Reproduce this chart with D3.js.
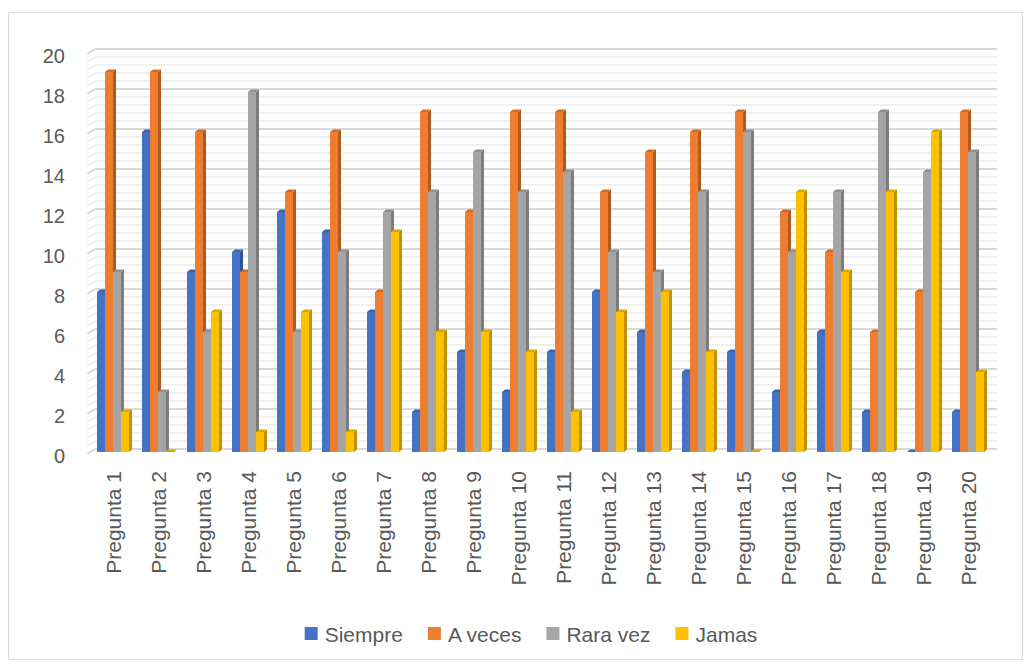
<!DOCTYPE html>
<html>
<head>
<meta charset="utf-8">
<script src="https://cdn.jsdelivr.net/npm/d3@7"></script>
<style>
  body { margin: 0; background: #fff; }
  svg { display: block; }
  text { font-family: "Liberation Sans", Arial, sans-serif; fill: #595959; }
</style>
</head>
<body>
<svg id="chart" width="1034" height="664"></svg>
<script>
// Survey answers per question
const categories = ["Pregunta 1", "Pregunta 2", "Pregunta 3", "Pregunta 4", "Pregunta 5",
  "Pregunta 6", "Pregunta 7", "Pregunta 8", "Pregunta 9", "Pregunta 10",
  "Pregunta 11", "Pregunta 12", "Pregunta 13", "Pregunta 14", "Pregunta 15",
  "Pregunta 16", "Pregunta 17", "Pregunta 18", "Pregunta 19", "Pregunta 20"];
const seriesNames = ["Siempre", "A veces", "Rara vez", "Jamas"];
const siempre = [8, 16, 9, 10, 12, 11, 7, 2, 5, 3, 5, 8, 6, 4, 5, 3, 6, 2, 0, 2];
const aVeces  = [19, 19, 16, 9, 13, 16, 8, 17, 12, 17, 17, 13, 15, 16, 17, 12, 10, 6, 8, 17];
const raraVez = [9, 3, 6, 18, 6, 10, 12, 13, 15, 13, 14, 10, 9, 13, 16, 10, 13, 17, 14, 15];
const jamas   = [2, 0, 7, 1, 7, 1, 11, 6, 6, 5, 2, 7, 8, 5, 0, 13, 9, 13, 16, 4];
const yTicks = [0, 2, 4, 6, 8, 10, 12, 14, 16, 18, 20];

const seriesValues = [siempre, aVeces, raraVez, jamas];
const frontColors = ["#4472C4", "#ED7D31", "#A5A5A5", "#FFC000"];
const sideColors  = ["#2F5597", "#B05A1E", "#7C7C7C", "#BF9000"];
const topColors   = ["#3A63AE", "#D06A25", "#8F8F8F", "#DCA500"];

const svg = d3.select("#chart");

// Outer chart border
svg.append("rect")
  .attr("x", 8.5).attr("y", 12.5)
  .attr("width", 1014).attr("height", 647)
  .attr("fill", "#fff").attr("stroke", "#d9d9d9").attr("stroke-width", 1);

// Scales (front plane of the 3D box)
const y = d3.scaleLinear().domain([0, 20]).range([452, 52]);
const x = d3.scaleBand().domain(categories).range([90.5, 990.5])
  .paddingInner(0.29).paddingOuter(0.145);
const xs = d3.scaleBand().domain(seriesNames).range([0, x.bandwidth()]);

// Back wall geometry
const wallLeftFront = 87, wallLeftBack = 95, wallRight = 997;
const wallDyFront = 2, wallDyBack = -3;

// Minor and major gridlines on back wall with the side-wall slant
const minorVals = d3.range(0, 20.0001, 0.4);
const grid = svg.append("g").attr("fill", "none");
grid.selectAll("path.minor")
  .data(minorVals.filter(v => Math.abs(v / 2 - Math.round(v / 2)) > 1e-6))
  .join("path")
  .attr("class", "minor")
  .attr("stroke", "#ececec").attr("stroke-width", 1.6)
  .attr("d", v => `M${wallLeftFront},${y(v) + wallDyFront}L${wallLeftBack},${y(v) + wallDyBack}L${wallRight},${y(v) + wallDyBack}`);
grid.selectAll("path.major")
  .data(yTicks)
  .join("path")
  .attr("class", "major")
  .attr("stroke", "#d9d9d9").attr("stroke-width", 2)
  .attr("d", v => `M${wallLeftFront},${y(v) + wallDyFront}L${wallLeftBack},${y(v) + wallDyBack}L${wallRight},${y(v) + wallDyBack}`);

// 3D bars: front face, right side, top
const dx = 3, dy = -2.5;
const bars = svg.append("g");
categories.forEach((cat, i) => {
  seriesNames.forEach((name, s) => {
    const v = seriesValues[s][i];
    const x0 = x(cat) + xs(name);
    const w = xs.bandwidth();
    const yt = y(v), yb = y(0);
    const g = bars.append("g");
    g.append("path")
      .attr("fill", sideColors[s])
      .attr("d", `M${x0 + w},${yt}L${x0 + w + dx},${yt + dy}L${x0 + w + dx},${yb + dy}L${x0 + w},${yb}Z`);
    g.append("rect")
      .attr("x", x0).attr("y", yt)
      .attr("width", w).attr("height", yb - yt)
      .attr("fill", frontColors[s]);
    g.append("path")
      .attr("fill", topColors[s])
      .attr("d", `M${x0},${yt}L${x0 + dx},${yt + dy}L${x0 + w + dx},${yt + dy}L${x0 + w},${yt}Z`);
  });
});

// Value axis labels
svg.append("g").selectAll("text")
  .data(yTicks)
  .join("text")
  .attr("x", 65)
  .attr("y", v => y(v) + 4)
  .attr("text-anchor", "end")
  .attr("dominant-baseline", "central")
  .attr("font-size", 20)
  .text(d => d);

// Category labels, rotated
svg.append("g").selectAll("text")
  .data(categories)
  .join("text")
  .attr("transform", c => `translate(${x(c) + x.bandwidth() / 2},471) rotate(-90)`)
  .attr("text-anchor", "end")
  .attr("dominant-baseline", "central")
  .attr("font-size", 21)
  .text(d => d);

// Legend
const legend = svg.append("g");
const items = legend.selectAll("g")
  .data(seriesNames)
  .join("g");
items.append("rect")
  .attr("width", 13).attr("height", 13)
  .attr("y", 627)
  .attr("fill", (d, i) => frontColors[i]);
items.append("text")
  .attr("x", 20).attr("y", 634)
  .attr("dominant-baseline", "central")
  .attr("font-size", 21)
  .text(d => d);
const widths = [];
items.each(function () { widths.push(20 + this.querySelector("text").getComputedTextLength()); });
const gap = 25;
const total = d3.sum(widths) + gap * (widths.length - 1);
let cx = 531 - total / 2;
items.attr("transform", (d, i) => {
  const t = `translate(${cx},0)`;
  cx += widths[i] + gap;
  return t;
});
</script>
</body>
</html>
